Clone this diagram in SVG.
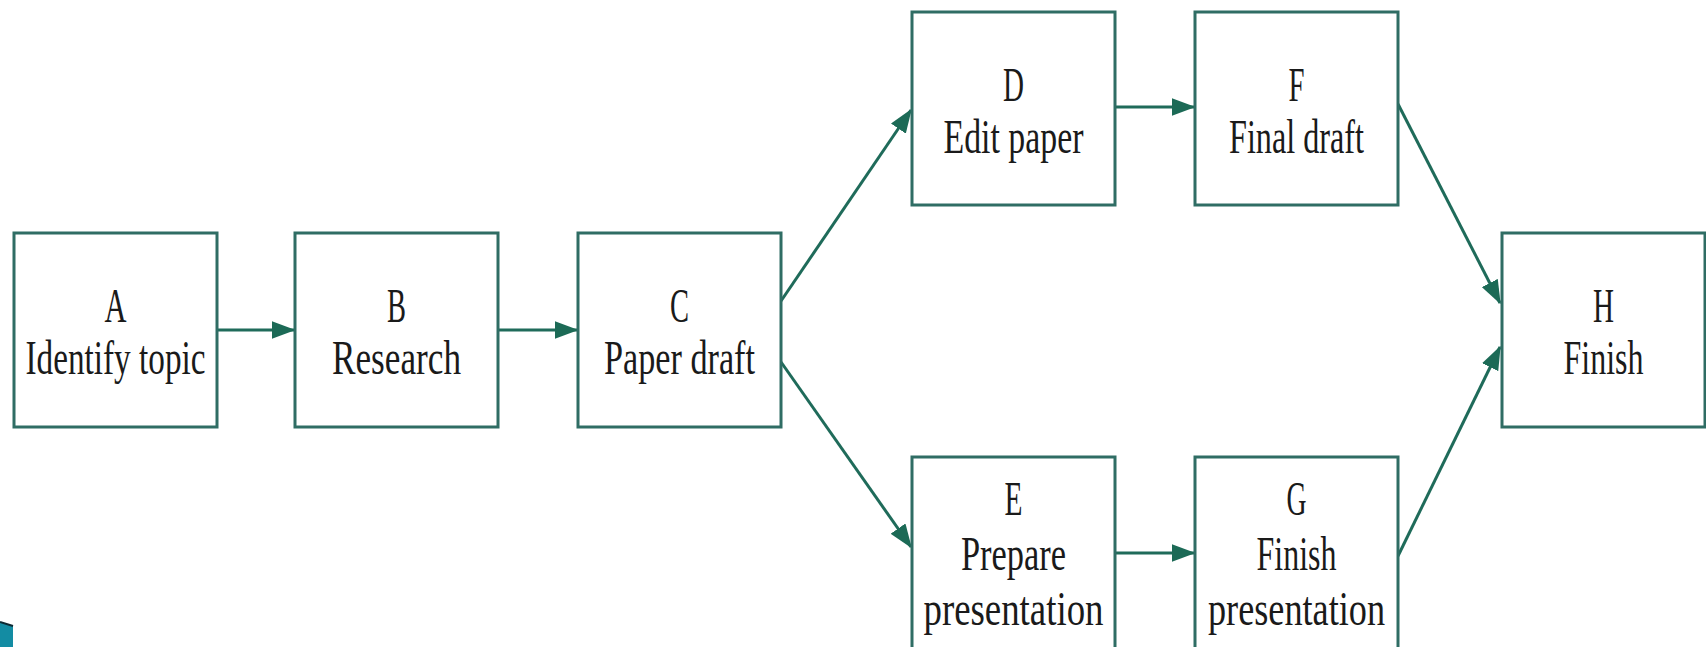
<svg xmlns="http://www.w3.org/2000/svg" width="1706" height="647" viewBox="0 0 1706 647">
<style>
.box{fill:#ffffff;stroke:#2f6d64;stroke-width:3}
.lbl{font-family:"Liberation Serif","Times New Roman",serif;font-size:48px;fill:#1a1a1a;text-anchor:middle}
.edge{stroke:#1f6b5a;stroke-width:3;fill:none;marker-end:url(#ah)}
</style>
<defs>
<marker id="ah" markerWidth="8" markerHeight="6" refX="7.5" refY="3" orient="auto" markerUnits="strokeWidth">
<path d="M0,0 L8,3 L0,6 Z" fill="#1c6a56"/>
</marker>
</defs>
<rect width="1706" height="647" fill="#ffffff"/>
<g id="connectors">
<line class="edge" x1="217" y1="330" x2="294" y2="330"/>
<line class="edge" x1="498" y1="330" x2="577" y2="330"/>
<line class="edge" x1="781" y1="301" x2="911" y2="110"/>
<line class="edge" x1="781" y1="362" x2="911" y2="547"/>
<line class="edge" x1="1115" y1="107" x2="1194" y2="107"/>
<line class="edge" x1="1115" y1="553" x2="1194" y2="553"/>
<line class="edge" x1="1398" y1="104" x2="1500" y2="303"/>
<line class="edge" x1="1398" y1="556" x2="1500" y2="347"/>
</g>
<g id="A">
<rect class="box" x="14" y="233" width="203" height="194"/>
<text class="lbl" x="115.5" y="322" textLength="22" lengthAdjust="spacingAndGlyphs">A</text>
<text class="lbl" x="115.5" y="374" textLength="180" lengthAdjust="spacingAndGlyphs">Identify topic</text>
</g>
<g id="B">
<rect class="box" x="295" y="233" width="203" height="194"/>
<text class="lbl" x="396.5" y="322" textLength="19" lengthAdjust="spacingAndGlyphs">B</text>
<text class="lbl" x="396.5" y="374" textLength="129" lengthAdjust="spacingAndGlyphs">Research</text>
</g>
<g id="C">
<rect class="box" x="578" y="233" width="203" height="194"/>
<text class="lbl" x="679.5" y="322" textLength="19" lengthAdjust="spacingAndGlyphs">C</text>
<text class="lbl" x="679.5" y="374" textLength="151" lengthAdjust="spacingAndGlyphs">Paper draft</text>
</g>
<g id="D">
<rect class="box" x="912" y="12" width="203" height="193"/>
<text class="lbl" x="1013.5" y="101" textLength="21" lengthAdjust="spacingAndGlyphs">D</text>
<text class="lbl" x="1013.5" y="153" textLength="140" lengthAdjust="spacingAndGlyphs">Edit paper</text>
</g>
<g id="F">
<rect class="box" x="1195" y="12" width="203" height="193"/>
<text class="lbl" x="1296.5" y="101" textLength="16" lengthAdjust="spacingAndGlyphs">F</text>
<text class="lbl" x="1296.5" y="153" textLength="135" lengthAdjust="spacingAndGlyphs">Final draft</text>
</g>
<g id="E">
<rect class="box" x="912" y="457" width="203" height="200"/>
<text class="lbl" x="1013.5" y="515" textLength="18" lengthAdjust="spacingAndGlyphs">E</text>
<text class="lbl" x="1013.5" y="570" textLength="105" lengthAdjust="spacingAndGlyphs">Prepare</text>
<text class="lbl" x="1013.5" y="625" textLength="180" lengthAdjust="spacingAndGlyphs">presentation</text>
</g>
<g id="G">
<rect class="box" x="1195" y="457" width="203" height="200"/>
<text class="lbl" x="1296.5" y="515" textLength="20" lengthAdjust="spacingAndGlyphs">G</text>
<text class="lbl" x="1296.5" y="570" textLength="80" lengthAdjust="spacingAndGlyphs">Finish</text>
<text class="lbl" x="1296.5" y="625" textLength="177" lengthAdjust="spacingAndGlyphs">presentation</text>
</g>
<g id="H">
<rect class="box" x="1502" y="233" width="203" height="194"/>
<text class="lbl" x="1603.5" y="322" textLength="21" lengthAdjust="spacingAndGlyphs">H</text>
<text class="lbl" x="1603.5" y="374" textLength="80" lengthAdjust="spacingAndGlyphs">Finish</text>
</g>
<polygon points="0,622 13,626 13,647 0,647" fill="#138ca3"/>
<line x1="0" y1="622" x2="13" y2="626" stroke="#0d2a33" stroke-width="2"/>
</svg>
